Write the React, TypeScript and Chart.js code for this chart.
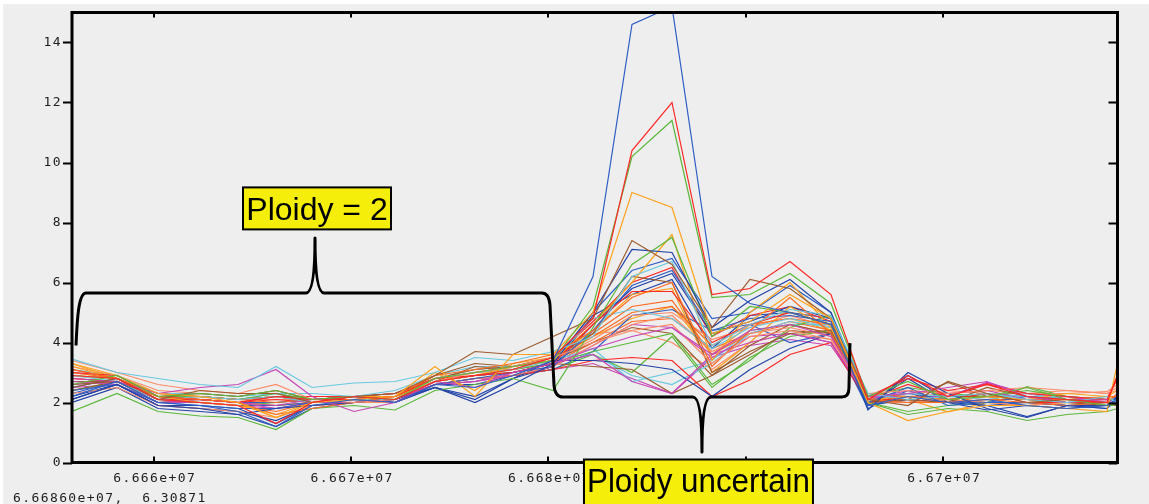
import React, { useEffect, useRef } from 'react';
import { Chart, registerables } from 'chart.js';

Chart.register(...registerables);

// genomic positions (bp) of the windows
const positions = [
  66655860, 66658141, 66660218, 66662346, 66664271, 66666196, 66668020, 66670148, 66672225, 66674251,
  66676278, 66678203, 66680229, 66682256, 66684231, 66686258, 66688284, 66690209, 66692235, 66694312,
  66696187, 66698213, 66700240, 66702216, 66704242, 66706269, 66708295, 66708830,
];

const xTicks = [66660000, 66670000, 66680000, 66690000, 66700000];
const yTicks = [0, 2, 4, 6, 8, 10, 12, 14];

const s01 = [2.2, 2.7, 2.0, 1.9, 1.7, 1.2, 1.9, 2.1, 2.0, 2.6, 2.5, 2.9, 3.4, 6.2, 14.6, 15.2, 6.2, 5.3, 5.0, 4.6, 1.9, 2.2, 2.0, 2.1, 1.9, 1.8, 1.9, 2.1];
const s02 = [2.9, 2.8, 2.1, 2.0, 1.9, 1.3, 2.0, 2.2, 2.1, 2.7, 2.9, 3.1, 3.5, 4.8, 10.4, 12.0, 5.6, 5.8, 6.7, 5.6, 2.1, 2.9, 2.2, 2.6, 2.2, 2.1, 2.0, 2.9];
const s03 = [2.6, 2.9, 2.2, 2.3, 2.2, 2.4, 2.1, 2.2, 2.1, 2.8, 3.0, 3.2, 3.4, 5.2, 10.2, 11.4, 5.5, 5.6, 6.3, 5.3, 2.2, 2.7, 2.1, 2.2, 2.5, 2.1, 1.9, 2.0];
const s04 = [3.3, 2.9, 2.3, 2.2, 2.0, 1.5, 2.0, 2.1, 2.2, 3.2, 2.2, 3.6, 3.6, 5.0, 9.0, 8.5, 4.3, 4.7, 5.6, 4.8, 2.0, 1.4, 1.7, 1.9, 1.9, 1.8, 1.7, 3.3];
const s05 = [2.5, 2.8, 2.1, 2.4, 2.3, 2.3, 2.0, 2.2, 2.3, 2.9, 3.7, 3.6, 4.2, 4.8, 7.4, 6.6, 4.5, 6.1, 5.8, 4.8, 2.1, 1.9, 2.7, 2.3, 2.0, 2.1, 2.0, 1.9];
const s06 = [3.45, 3.0, 2.8, 2.6, 2.5, 3.2, 2.5, 2.65, 2.7, 3.0, 3.5, 3.4, 3.7, 4.2, 6.2, 6.7, 3.9, 4.6, 5.1, 4.9, 2.3, 2.1, 2.2, 2.3, 2.1, 2.0, 2.2, 2.0];
const s07 = [2.8, 2.7, 2.3, 2.5, 2.6, 3.1, 2.2, 1.7, 2.0, 2.7, 2.5, 3.0, 3.3, 3.8, 4.2, 4.5, 3.6, 4.4, 4.6, 4.2, 2.2, 2.3, 2.5, 2.7, 2.2, 2.0, 2.1, 1.9];
const s08 = [3.4, 3.0, 2.6, 2.4, 2.3, 2.6, 2.1, 2.0, 2.1, 2.7, 3.0, 3.2, 3.5, 4.0, 4.4, 4.6, 3.3, 4.2, 4.4, 4.1, 2.3, 2.4, 2.3, 2.4, 2.5, 2.4, 2.3, 2.5];
const s09 = [2.1, 2.6, 1.9, 1.8, 1.6, 1.8, 1.9, 2.0, 2.1, 2.5, 2.0, 2.6, 3.3, 5.0, 7.1, 7.0, 4.5, 5.4, 6.1, 5.0, 1.75, 3.0, 2.3, 1.8, 1.5, 1.9, 1.8, 2.2];
const s10 = [3.1, 2.8, 2.2, 2.1, 2.0, 1.6, 1.8, 2.0, 2.2, 2.9, 3.1, 3.3, 3.6, 4.4, 5.5, 6.0, 3.2, 4.4, 5.5, 4.3, 2.1, 2.0, 2.0, 2.1, 2.0, 1.9, 2.0, 2.3];
const s11 = [1.7, 2.3, 1.7, 1.55, 1.5, 1.1, 1.8, 1.9, 1.75, 2.4, 2.6, 2.8, 2.4, 4.5, 6.6, 7.5, 4.2, 5.2, 5.0, 4.6, 2.0, 1.6, 1.8, 1.7, 1.4, 1.6, 1.7, 1.8];
const s12 = [3.0, 2.9, 2.2, 2.1, 2.0, 2.2, 2.1, 2.1, 2.2, 2.8, 2.9, 3.0, 3.3, 4.6, 5.7, 5.7, 4.0, 4.6, 5.0, 4.6, 2.2, 2.8, 2.4, 2.6, 2.3, 2.2, 2.1, 2.9];
const s13 = [2.4, 2.6, 2.0, 1.9, 1.8, 1.8, 2.0, 2.2, 2.0, 2.6, 2.8, 3.0, 3.2, 4.4, 5.9, 6.4, 4.4, 4.8, 4.9, 4.7, 2.0, 2.5, 1.9, 2.0, 2.0, 1.9, 2.0, 2.0];
const s14 = [3.2, 2.8, 2.2, 2.0, 1.9, 1.6, 2.0, 2.2, 2.2, 2.7, 2.9, 3.2, 3.4, 4.6, 6.0, 7.6, 3.4, 5.0, 6.0, 4.5, 2.1, 2.2, 2.1, 2.2, 2.1, 2.3, 2.2, 2.4];
const s15 = [2.6, 2.7, 2.2, 2.3, 2.2, 2.4, 2.1, 2.2, 2.2, 2.9, 3.3, 3.2, 3.5, 4.3, 6.2, 6.0, 3.0, 3.7, 4.3, 4.4, 2.0, 2.1, 2.0, 2.5, 2.2, 2.0, 1.9, 2.0];
const s16 = [2.9, 2.7, 2.1, 2.2, 2.1, 2.2, 2.0, 2.1, 2.1, 2.8, 3.0, 3.1, 3.4, 4.8, 5.1, 4.8, 3.8, 4.5, 4.8, 4.5, 2.2, 2.3, 2.2, 2.1, 2.3, 2.1, 2.0, 2.1];
const s17 = [2.7, 2.6, 2.0, 2.1, 2.0, 1.9, 2.1, 2.2, 2.0, 2.6, 2.7, 3.0, 3.3, 3.6, 2.7, 2.3, 3.6, 4.0, 4.3, 4.0, 2.1, 2.4, 2.3, 2.4, 2.1, 2.2, 2.0, 2.0];
const s18 = [2.3, 2.5, 1.9, 1.8, 1.7, 1.5, 1.9, 2.0, 2.0, 2.6, 2.8, 2.9, 3.2, 3.9, 4.6, 4.9, 3.7, 4.3, 4.5, 4.2, 2.0, 2.0, 2.1, 2.0, 1.9, 2.0, 2.1, 1.9];
const s19 = [2.0, 2.5, 1.8, 1.7, 1.6, 1.2, 1.8, 2.0, 2.0, 2.5, 2.2, 2.8, 3.4, 3.4, 3.3, 3.1, 2.2, 3.1, 3.8, 4.3, 1.9, 2.1, 2.0, 1.9, 2.0, 1.9, 1.9, 2.1];
const s20 = [3.0, 2.8, 2.3, 2.2, 2.1, 2.0, 2.1, 2.2, 2.2, 2.8, 3.0, 3.1, 3.5, 4.2, 5.0, 5.2, 3.9, 4.6, 4.8, 4.6, 2.3, 2.2, 2.0, 2.2, 2.1, 2.1, 2.2, 2.2];
const s21 = [2.5, 2.8, 2.2, 2.1, 2.0, 2.0, 2.1, 2.1, 2.1, 2.7, 2.9, 3.0, 3.3, 5.0, 6.4, 6.8, 4.8, 5.0, 5.9, 5.0, 2.1, 2.3, 2.1, 2.0, 2.2, 2.1, 2.0, 2.2];
const s22 = [2.8, 2.7, 2.1, 2.1, 2.0, 2.1, 2.0, 2.1, 2.1, 2.6, 2.8, 2.9, 3.1, 3.4, 3.5, 3.4, 2.2, 2.75, 3.6, 4.0, 2.0, 2.2, 2.1, 2.3, 2.0, 2.0, 2.0, 2.0];
const s23 = [2.9, 2.8, 2.2, 2.2, 2.1, 2.3, 2.1, 2.2, 2.2, 2.7, 2.9, 3.1, 3.3, 3.7, 4.0, 4.3, 2.6, 3.4, 4.5, 4.9, 2.2, 2.5, 2.3, 2.2, 2.4, 2.2, 2.1, 2.1];
const s24 = [3.3, 2.8, 2.2, 2.1, 2.0, 1.5, 1.9, 2.0, 2.1, 3.0, 2.4, 3.3, 3.5, 4.4, 5.6, 5.8, 3.0, 4.0, 5.2, 4.4, 2.0, 2.0, 2.1, 2.0, 1.9, 2.0, 1.9, 2.1];
const s25 = [2.4, 2.7, 2.0, 2.1, 2.0, 2.2, 2.0, 2.1, 2.2, 2.7, 3.2, 3.1, 3.3, 3.2, 3.1, 2.3, 2.9, 3.6, 4.4, 4.3, 2.1, 2.0, 2.2, 2.2, 2.1, 2.0, 2.0, 1.9];
const s26 = [3.0, 2.9, 2.3, 2.3, 2.2, 2.3, 2.3, 2.2, 2.4, 2.9, 3.2, 3.2, 3.5, 3.6, 2.9, 2.6, 3.3, 4.3, 4.7, 4.5, 2.3, 2.2, 2.1, 2.3, 2.2, 2.2, 2.1, 2.0];
const s27 = [2.6, 2.7, 2.1, 2.1, 2.0, 1.8, 2.0, 2.0, 2.1, 2.6, 2.7, 2.9, 3.2, 3.9, 4.6, 4.5, 3.5, 4.2, 4.3, 4.0, 2.2, 2.2, 2.2, 2.67, 2.3, 2.1, 2.1, 2.0];
const s28 = [3.2, 2.9, 2.4, 2.3, 2.2, 2.4, 2.1, 2.2, 2.2, 2.8, 3.0, 3.2, 3.4, 4.1, 4.9, 5.0, 4.1, 4.5, 4.9, 4.5, 2.2, 2.3, 2.4, 2.3, 2.3, 2.3, 2.36, 2.6];
const s29 = [2.2, 2.6, 1.9, 1.8, 1.7, 1.4, 1.9, 2.0, 2.1, 2.6, 2.6, 2.9, 3.2, 4.6, 5.8, 6.3, 4.3, 4.7, 5.2, 4.8, 1.9, 2.8, 2.0, 1.75, 1.9, 1.8, 1.9, 2.0];
const s30 = [2.9, 2.8, 2.1, 2.0, 1.9, 1.7, 2.0, 2.1, 2.1, 2.7, 2.9, 3.0, 3.3, 4.3, 5.2, 5.4, 3.6, 4.3, 4.7, 4.4, 2.1, 2.1, 2.0, 2.1, 2.1, 2.0, 2.0, 2.0];
const s31 = [2.3, 2.7, 2.1, 2.0, 1.9, 1.9, 2.0, 2.1, 2.0, 2.6, 2.8, 2.9, 3.1, 3.7, 4.9, 5.1, 4.4, 4.6, 4.0, 4.3, 1.8, 2.4, 2.0, 2.0, 2.0, 1.9, 1.9, 2.0];
const s32 = [3.1, 2.8, 2.2, 2.2, 2.1, 2.2, 2.2, 2.2, 2.3, 2.8, 3.0, 3.2, 3.5, 4.7, 6.0, 6.5, 4.2, 4.9, 5.2, 4.7, 2.1, 2.6, 2.2, 2.64, 2.3, 2.2, 2.1, 2.8];
const s33 = [2.4, 2.7, 2.1, 2.0, 1.9, 2.0, 2.1, 2.1, 2.0, 2.6, 2.8, 2.9, 3.1, 3.6, 3.0, 4.2, 2.5, 3.5, 4.2, 4.4, 2.0, 1.7, 1.9, 2.0, 2.53, 2.2, 1.9, 1.9];
const s34 = [3.0, 2.8, 2.2, 2.1, 2.0, 1.9, 2.0, 2.1, 2.1, 2.8, 3.0, 3.1, 3.4, 4.2, 4.8, 5.2, 3.6, 4.6, 4.8, 4.4, 2.0, 2.1, 1.69, 2.0, 2.0, 2.1, 2.0, 2.1];
const s35 = [2.7, 2.7, 2.1, 2.2, 2.1, 2.2, 2.1, 2.2, 2.3, 2.8, 3.1, 3.2, 3.4, 4.0, 4.5, 4.3, 2.9, 3.9, 4.6, 4.3, 2.1, 2.1, 2.67, 2.2, 2.1, 2.0, 2.0, 1.9];
const s36 = [3.1, 2.9, 2.2, 2.2, 2.1, 2.3, 2.1, 2.2, 2.3, 2.8, 3.1, 3.2, 3.4, 3.8, 2.7, 3.0, 3.4, 4.4, 4.6, 4.6, 2.2, 2.2, 2.1, 2.2, 2.2, 2.1, 2.1, 2.0];
const s37 = [2.5, 2.6, 2.0, 2.0, 1.9, 1.8, 2.0, 2.1, 2.0, 2.6, 2.7, 2.9, 3.1, 3.3, 2.8, 2.3, 3.5, 3.9, 4.1, 3.9, 2.1, 2.2, 2.2, 2.3, 2.2, 2.1, 2.0, 2.0];
const s38 = [3.1, 2.8, 2.3, 2.2, 2.1, 2.1, 2.1, 2.1, 2.2, 2.8, 3.0, 3.2, 3.5, 4.3, 4.4, 4.0, 3.1, 4.0, 4.3, 4.1, 2.2, 2.2, 2.3, 2.4, 2.3, 2.4, 2.3, 2.4];
const s39 = [2.1, 2.6, 1.9, 1.9, 1.8, 1.3, 1.9, 2.0, 2.0, 2.5, 2.1, 2.8, 3.2, 4.9, 5.6, 6.1, 3.8, 4.9, 5.0, 4.8, 1.9, 2.9, 2.1, 1.9, 1.53, 1.9, 1.8, 2.1];
const s40 = [2.8, 2.7, 2.2, 2.1, 2.0, 1.9, 2.0, 2.1, 2.1, 2.7, 2.9, 3.0, 3.3, 4.0, 4.7, 4.8, 3.8, 4.3, 4.6, 4.3, 2.2, 2.2, 2.1, 2.2, 2.2, 2.1, 2.1, 2.2];

const seriesValues = [
  s01, s02, s03, s04, s05, s06, s07, s08, s09, s10, s11, s12, s13, s14, s15, s16, s17, s18, s19, s20,
  s21, s22, s23, s24, s25, s26, s27, s28, s29, s30, s31, s32, s33, s34, s35, s36, s37, s38, s39, s40,
];

const BLUE = '#2f5fc4', RED = '#ff2626', GREEN = '#5cb83c', ORANGE = '#ffa21e', BROWN = '#9c5a2e';
const CYAN = '#68c8e0', MAGENTA = '#c646b6', SALMON = '#ff8a68', DBLUE = '#2343a8', ORED = '#ff6a22';
const seriesColors = [
  BLUE, RED, GREEN, ORANGE, BROWN, CYAN, MAGENTA, SALMON, DBLUE, ORED,
  GREEN, RED, BLUE, ORANGE, BROWN, CYAN, MAGENTA, SALMON, DBLUE, ORED,
  BLUE, RED, GREEN, ORANGE, BROWN, CYAN, MAGENTA, SALMON, DBLUE, ORED,
  BLUE, RED, GREEN, ORANGE, BROWN, CYAN, MAGENTA, SALMON, DBLUE, ORED,
];

// annotation geometry in data coordinates
const brace = {
  leftX: 66656064, leftEndY: 3.9, upperY: 5.65, upperTipX: 66668172, upperTipY: 7.48,
  joinX: 66679976, lowerY: 2.18, lowerTipX: 66687777, lowerTipY: 0.35, rightX: 66695224, rightEndY: 3.98,
};
const labelBoxes = [
  { text: 'Ploidy = 2', x: 66664524, y: 9.17, w: 148, h: 42, size: 32, base: 32.5, maxW: 142 },
  { text: 'Ploidy uncertain', x: 66681799, y: 0.1, w: 229, h: 50, size: 33, base: 32.5, maxW: 223 },
];
const cursorText = '6.66860e+07,  6.30871';

const W = 1149, H = 504;
const MONO = '13px "DejaVu Sans Mono"';

const fmtX = (v: number) => `${parseFloat((v / 1e7).toFixed(3))}e+07`;

const decor = {
  id: 'decor',
  beforeDraw(chart: any) {
    const ctx = chart.ctx;
    ctx.save();
    ctx.fillStyle = '#ffffff';
    ctx.fillRect(0, 0, W, H);
    ctx.fillStyle = '#edeeed';
    ctx.fillRect(3, 4, W - 3, H - 4);
    ctx.restore();
  },
  afterDatasetsDraw(chart: any) {
    const ctx = chart.ctx;
    const xs = chart.scales.x, ys = chart.scales.y;
    const X = (v: number) => xs.getPixelForValue(v);
    const Y = (v: number) => ys.getPixelForValue(v);
    const { left, right, top, bottom } = chart.chartArea;

    // braces
    ctx.save();
    ctx.strokeStyle = '#000';
    ctx.lineWidth = 3;
    ctx.lineJoin = 'round';
    const xa = X(brace.leftX), ya = Y(brace.leftEndY), yh = Y(brace.upperY);
    const xt = X(brace.upperTipX), yt = Y(brace.upperTipY);
    const xj = X(brace.joinX), yl = Y(brace.lowerY);
    const xt2 = X(brace.lowerTipX), yt2 = Y(brace.lowerTipY);
    const xr = X(brace.rightX), yr = Y(brace.rightEndY);
    ctx.beginPath();
    ctx.moveTo(xa, ya);
    ctx.bezierCurveTo(xa + 1, yh + 30, xa + 2, yh, xa + 10, yh);
    ctx.lineTo(xt - 9, yh);
    ctx.quadraticCurveTo(xt, yh, xt, yt);
    ctx.quadraticCurveTo(xt, yh, xt + 9, yh);
    ctx.lineTo(xj - 6, yh);
    ctx.quadraticCurveTo(xj + 1, yh, xj + 2, yh + 12);
    ctx.lineTo(xj + 6, yl - 12);
    ctx.quadraticCurveTo(xj + 7, yl, xj + 15, yl);
    ctx.lineTo(xt2 - 9, yl);
    ctx.quadraticCurveTo(xt2, yl, xt2, yt2);
    ctx.quadraticCurveTo(xt2, yl, xt2 + 9, yl);
    ctx.lineTo(xr - 7, yl);
    ctx.quadraticCurveTo(xr, yl, xr, yl - 9);
    ctx.lineTo(xr + 1, yr);
    ctx.stroke();
    ctx.restore();

    // frame + ticks
    ctx.save();
    ctx.strokeStyle = '#000';
    ctx.lineWidth = 3;
    ctx.strokeRect(left, top, right - left, bottom - top);
    ctx.lineWidth = 2;
    ctx.beginPath();
    for (const t of xTicks) {
      const px = Math.round(X(t));
      ctx.moveTo(px, bottom); ctx.lineTo(px, bottom - 6);
      ctx.moveTo(px, top); ctx.lineTo(px, top + 5);
    }
    for (const t of yTicks) {
      const py = Math.round(Y(t)) + 0.5;
      ctx.moveTo(left - 9, py); ctx.lineTo(left, py);
      ctx.moveTo(right, py); ctx.lineTo(right - 9, py);
    }
    ctx.stroke();

    // tick labels
    ctx.fillStyle = '#1e1e1e';
    ctx.font = MONO;
    (ctx as any).letterSpacing = '1.4px';
    ctx.textBaseline = 'alphabetic';
    ctx.textAlign = 'center';
    for (const t of xTicks) ctx.fillText(fmtX(t), X(t) + 1, bottom + 19);
    ctx.textAlign = 'right';
    ctx.textBaseline = 'middle';
    for (const t of yTicks) ctx.fillText(String(t), left - 10, Y(t) + 0.5);
    ctx.textAlign = 'left';
    ctx.textBaseline = 'alphabetic';
    ctx.fillText(cursorText, 13, 502);
    (ctx as any).letterSpacing = '0px';
    ctx.restore();

    // label boxes
    ctx.save();
    for (const b of labelBoxes) {
      const bx = X(b.x), by = Y(b.y);
      ctx.fillStyle = '#f5ee0b';
      ctx.fillRect(bx, by, b.w, b.h);
      ctx.strokeStyle = '#000';
      ctx.lineWidth = 2;
      ctx.strokeRect(bx, by, b.w, b.h);
      ctx.fillStyle = '#000';
      ctx.font = `${b.size}px "Liberation Sans"`;
      ctx.textAlign = 'center';
      ctx.textBaseline = 'alphabetic';
      ctx.fillText(b.text, bx + b.w / 2, by + b.base, b.maxW);
    }
    ctx.restore();
  },
};

export default function App() {
  const ref = useRef<HTMLCanvasElement | null>(null);
  useEffect(() => {
    document.body.style.margin = '0';
    document.body.style.overflow = 'hidden';
    const canvas = ref.current;
    if (!canvas) return;
    const datasets = seriesValues.map((vals, i) => ({
      label: `s${i + 1}`,
      data: positions.map((x, j) => ({ x, y: vals[j] })),
      borderColor: seriesColors[i],
      borderWidth: 1.2,
      pointRadius: 0,
      tension: 0,
      fill: false,
    }));
    const chart = new Chart(canvas, {
      type: 'line',
      data: { datasets },
      options: {
        animation: false,
        responsive: false,
        events: [],
        layout: { padding: { top: 12.5, right: 31.5, left: 0, bottom: 0 } },
        plugins: { legend: { display: false }, tooltip: { enabled: false } },
        scales: {
          x: {
            type: 'linear',
            min: positions[0],
            max: positions[positions.length - 1],
            grid: { display: false },
            border: { display: false },
            ticks: { display: false },
            afterFit: (s: any) => { s.height = H - 462.5; },
          },
          y: {
            min: 0,
            max: 15,
            grid: { display: false },
            border: { display: false },
            ticks: { display: false },
            afterFit: (s: any) => { s.width = 72; },
          },
        },
      },
      plugins: [decor],
    });
    return () => chart.destroy();
  }, []);
  return (
    <div style={{ width: W, height: H, position: 'relative' }}>
      <canvas ref={ref} width={W} height={H} style={{ display: 'block', width: W, height: H }} />
    </div>
  );
}
